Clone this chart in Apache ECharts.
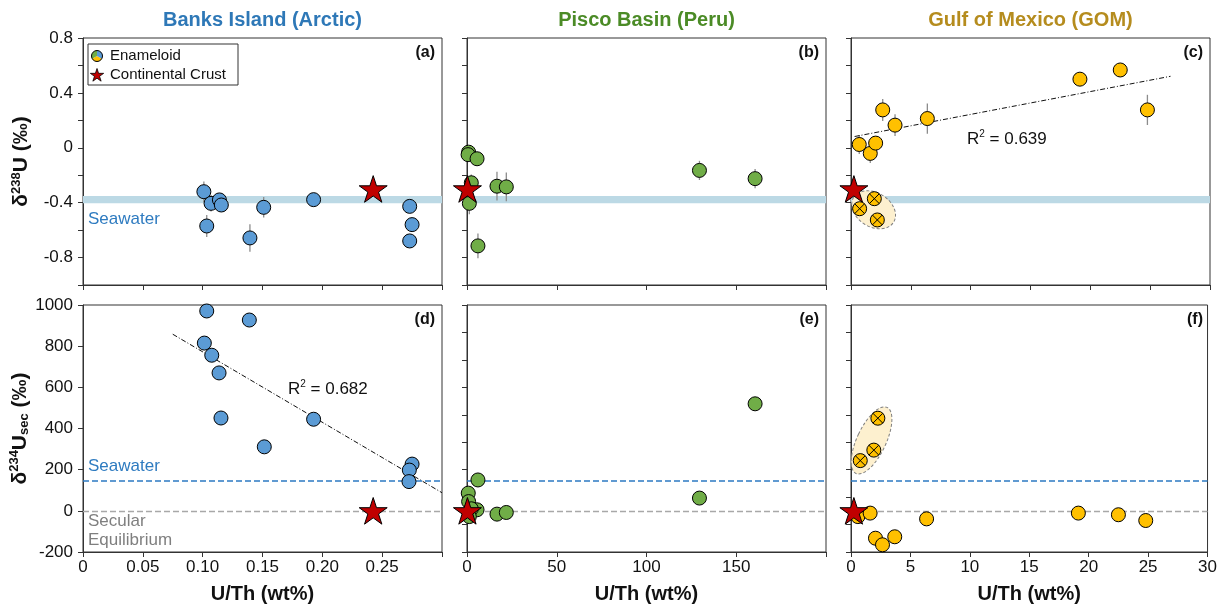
<!DOCTYPE html>
<html>
<head>
<meta charset="utf-8">
<script src="https://cdn.jsdelivr.net/npm/echarts@6/dist/echarts.min.js"></script>
<style>
  html, body { margin: 0; padding: 0; background: #fff; }
  #chart { width: 1220px; height: 606px; }
</style>
</head>
<body>
<div id="chart"></div>
<script>
// ---- data ----
// (a) Banks Island, d238U
const banksUThA = [0.101, 0.1034, 0.107, 0.114, 0.1156, 0.1395, 0.151, 0.1927, 0.273, 0.275, 0.273];
const banksD238 = [-0.32, -0.57, -0.405, -0.38, -0.417, -0.657, -0.434, -0.378, -0.427, -0.56, -0.679];
const banksD238Err = [0.075, 0.08, 0.06, 0.05, 0.05, 0.1, 0.075, 0.03, 0.02, 0.02, 0.02];
// (d) Banks Island, d234U sec
const banksUThD = [0.1034, 0.139, 0.1014, 0.1076, 0.1137, 0.1153, 0.1515, 0.1927, 0.275, 0.2727, 0.2724];
const banksD234 = [971, 927, 815, 756, 670, 451, 311, 445, 227, 198, 142];
const trendDX = [0.075, 0.30];
const trendDY = [858, 88];

// (b) Pisco Basin, d238U
const piscoUThB = [0.9, 0.6, 5.6, 2.4, 1.3, 6.1, 16.7, 21.9, 129.5, 160.5];
const piscoD238 = [-0.032, -0.05, -0.08, -0.255, -0.405, -0.715, -0.28, -0.285, -0.165, -0.225];
const piscoD238Err = [0.03, 0.03, 0.03, 0.06, 0.08, 0.09, 0.105, 0.105, 0.07, 0.07];
// (e) Pisco Basin, d234U sec
const piscoUThE = [6.1, 0.7, 0.9, 5.6, 2.4, 1.3, 16.7, 21.9, 129.5, 160.5];
const piscoD234 = [150, 86, 45, 5, 10, -28, -16, -8, 62, 520];

// (c) Gulf of Mexico, d238U
const gomUThC = [0.69, 1.61, 2.06, 2.65, 3.68, 6.38, 19.13, 22.5, 24.77];
const gomD238 = [0.024, -0.041, 0.034, 0.276, 0.165, 0.213, 0.50, 0.567, 0.276];
const gomD238Err = [0.07, 0.07, 0.05, 0.08, 0.08, 0.11, 0.03, 0.03, 0.11];
const gomAltUThC = [0.72, 1.95, 2.2];
const gomAltD238 = [-0.444, -0.371, -0.526];
const trendCX = [0.3, 26.7];
const trendCY = [0.082, 0.521];
// (f) Gulf of Mexico, d234U sec
const gomUThF = [0.58, 1.61, 2.06, 2.65, 3.68, 6.36, 19.13, 22.5, 24.8];
const gomD234 = [-28, -11, -133, -165, -126, -39, -11, -19, -47];
const gomAltUThF = [0.78, 1.92, 2.26];
const gomAltD234 = [244, 295, 450];

// continental crust and seawater references
const crustUTh = 0.2425;
const crustD238 = -0.30;
const crustD234 = 0;
const seawaterD238Band = [-0.405, -0.352];
const seawaterD234 = 146;
const secularD234 = 0;

// axis ticks
const xTicks = [[0, 0.3, 0.05], [0, 200, 50], [0, 30, 5]];
const y238Ticks = [-1.0, 0.8, 0.2];
const y234Ticks = [-200, 1000, 200];

// ---- styling ----
const FONT = "'Liberation Sans', Arial, sans-serif";
const AX = '#333';
const BLUE = '#5b9bd5', GREEN = '#70ad47', GOLD = '#ffc000', RED = '#c00000';
const lefts = [83, 467, 851];
const tops = [38, 305];
const W = 359, H = 247;

function starPts(cx, cy, R) {
  const pts = [];
  for (let i = 0; i < 10; i++) {
    const r = i % 2 ? R * 0.382 : R;
    const a = -Math.PI / 2 + i * Math.PI / 5;
    pts.push([cx + r * Math.cos(a), cy + r * Math.sin(a)]);
  }
  return pts;
}
const STAR = 'path://' + starPts(100, 100, 100)
  .map((p, i) => (i ? 'L' : 'M') + p[0].toFixed(2) + ',' + p[1].toFixed(2)).join('') + 'Z';
const CROSSED = 'path://M0,10A10,10,0,1,1,20,10A10,10,0,1,1,0,10ZM2.93,2.93L17.07,17.07M17.07,2.93L2.93,17.07';

const zip = (xs, ys) => xs.map((x, i) => [x, ys[i]]);

const grids = [];
const xAxes = [];
const yAxes = [];
for (let r = 0; r < 2; r++) {
  for (let c = 0; c < 3; c++) {
    grids.push({
      left: lefts[c], top: tops[r], width: W, height: H,
      show: true, borderColor: AX, borderWidth: 1, backgroundColor: 'transparent'
    });
    const gi = r * 3 + c;
    xAxes.push({
      type: 'value', gridIndex: gi,
      min: xTicks[c][0], max: xTicks[c][1], interval: xTicks[c][2],
      axisLine: { show: true, onZero: false, lineStyle: { color: AX, width: 1 } },
      axisTick: { show: true, inside: false, length: 5, lineStyle: { color: AX } },
      splitLine: { show: false },
      axisLabel: {
        show: r === 1, margin: 7, fontSize: 17, fontFamily: FONT, color: '#111',
        formatter: function (v) {
          if (c === 0) return v > 0.29 ? '' : (v === 0 ? '0' : v.toFixed(2));
          if (c === 1) return v >= 200 ? '' : String(v);
          return String(v);
        }
      },
      name: r === 1 ? 'U/Th (wt%)' : '',
      nameLocation: 'middle', nameGap: 32,
      nameTextStyle: { fontSize: 20, fontWeight: 'bold', fontFamily: FONT, color: '#111' }
    });
  }
}

const yAxisBase = {
  type: 'value', position: 'left',
  axisLine: { show: true, onZero: false, lineStyle: { color: AX, width: 1 } },
  axisTick: { show: true, inside: false, length: 5, lineStyle: { color: AX } },
  splitLine: { show: false }
};
const nameRich = {
  b: { fontSize: 21, fontWeight: 'bold', fontFamily: FONT, color: '#111' },
  sup: { fontSize: 13, fontWeight: 'bold', fontFamily: FONT, color: '#111', verticalAlign: 'top', lineHeight: 23 },
  sub: { fontSize: 13, fontWeight: 'bold', fontFamily: FONT, color: '#111', verticalAlign: 'bottom', lineHeight: 23 }
};
// 0,1,2 : top row (d238U)
for (let c = 0; c < 3; c++) {
  yAxes.push(Object.assign({}, yAxisBase, {
    gridIndex: c, min: y238Ticks[0], max: y238Ticks[1], interval: y238Ticks[2],
    axisLabel: {
      show: c === 0, margin: 10, fontSize: 17, fontFamily: FONT, color: '#111',
      formatter: function (v) {
        const k = Math.round(v * 10);
        if (k % 4 !== 0 || k < -8) return '';
        return k === 0 ? '0' : (k / 10).toFixed(1);
      }
    },
    name: c === 0 ? '{b|δ}{sup|238}{b|U (‰)}' : '',
    nameLocation: 'middle', nameRotate: 90, nameGap: 50,
    nameTextStyle: { rich: nameRich }
  }));
}
// 3 : (d)
yAxes.push(Object.assign({}, yAxisBase, {
  gridIndex: 3, min: y234Ticks[0], max: y234Ticks[1], interval: y234Ticks[2],
  axisLabel: { margin: 10, fontSize: 17, fontFamily: FONT, color: '#111',
    formatter: function (v) { return String(v); } },
  name: '{b|δ}{sup|234}{b|U}{sub|sec}{b| (‰)}',
  nameLocation: 'middle', nameRotate: 90, nameGap: 50,
  nameTextStyle: { rich: nameRich }
}));
// 4,5 : data axes for (e),(f)
for (let c = 1; c < 3; c++) {
  yAxes.push({ type: 'value', gridIndex: 3 + c, position: 'right', min: y234Ticks[0], max: y234Ticks[1], show: false });
}
// 6,7 : tick-only axes for (e),(f) (nine equal divisions as in the figure)
for (let c = 1; c < 3; c++) {
  yAxes.push(Object.assign({}, yAxisBase, {
    gridIndex: 3 + c, min: 0, max: 9, interval: 1, axisLabel: { show: false }
  }));
}

const series = [];
function refSeries(xi, yi, extra) {
  series.push(Object.assign({ type: 'line', xAxisIndex: xi, yAxisIndex: yi, data: [], silent: true, z: 1 }, extra));
}
function errSeries(xi, yi, xs, ys, es) {
  series.push({
    type: 'custom', xAxisIndex: xi, yAxisIndex: yi, z: 2, silent: true,
    data: xs.map((x, i) => [x, ys[i], es[i]]),
    renderItem: function (params, api) {
      const x = api.value(0), y = api.value(1), e = api.value(2);
      const p1 = api.coord([x, y + e]), p2 = api.coord([x, y - e]);
      return { type: 'line', shape: { x1: p1[0], y1: p1[1], x2: p2[0], y2: p2[1] },
        style: { stroke: '#8c8c8c', lineWidth: 1.3 } };
    }
  });
}
function pointSeries(xi, yi, xs, ys, color, symbol, size, z) {
  series.push({
    type: 'scatter', xAxisIndex: xi, yAxisIndex: yi, z: z || 5,
    symbol: symbol || 'circle', symbolSize: size || 14, symbolKeepAspect: true,
    itemStyle: { color: color, borderColor: '#000', borderWidth: 1, opacity: 1 },
    data: zip(xs, ys)
  });
}
function trendSeries(xi, yi, xs, ys) {
  series.push({
    type: 'line', xAxisIndex: xi, yAxisIndex: yi, z: 3, silent: true, symbol: 'none',
    lineStyle: { color: '#111', width: 1, type: [5, 2, 1, 2] },
    data: zip(xs, ys)
  });
}
function ellipseSeries(xi, yi, center, rx, ry, rot) {
  series.push({
    type: 'custom', xAxisIndex: xi, yAxisIndex: yi, z: 3, silent: true,
    data: [center],
    renderItem: function (params, api) {
      const p = api.coord([api.value(0), api.value(1)]);
      return { type: 'ellipse', x: p[0], y: p[1], rotation: rot,
        shape: { cx: 0, cy: 0, rx: rx, ry: ry },
        style: { fill: '#fdf0cf', stroke: '#808080', lineWidth: 1, lineDash: [3, 2] } };
    }
  });
}

// seawater band in top row
for (let c = 0; c < 3; c++) {
  refSeries(c, c, {
    markArea: { silent: true, itemStyle: { color: '#bcd9e5' },
      data: [[{ yAxis: seawaterD238Band[0] }, { yAxis: seawaterD238Band[1] }]] }
  });
}
// seawater / secular equilibrium lines in bottom row
const bottomY = [3, 4, 5];
for (let c = 0; c < 3; c++) {
  refSeries(3 + c, bottomY[c], {
    markLine: { silent: true, symbol: ['none', 'none'], label: { show: false },
      data: [
        { yAxis: seawaterD234, lineStyle: { color: '#2c79c2', type: [6, 3], width: 1.5 } },
        { yAxis: secularD234, lineStyle: { color: '#a8a8a8', type: [6, 3], width: 1.4 } }
      ] }
  });
}

// (a)
errSeries(0, 0, banksUThA, banksD238, banksD238Err);
pointSeries(0, 0, banksUThA, banksD238, BLUE);
pointSeries(0, 0, [crustUTh], [crustD238], RED, STAR, 28, 8);
// (b)
errSeries(1, 1, piscoUThB, piscoD238, piscoD238Err);
pointSeries(1, 1, piscoUThB, piscoD238, GREEN);
pointSeries(1, 1, [crustUTh], [crustD238], RED, STAR, 28, 8);
// (c)
errSeries(2, 2, gomUThC, gomD238, gomD238Err);
trendSeries(2, 2, trendCX, trendCY);
ellipseSeries(2, 2, [1.89, -0.452], 23.5, 17, -0.55);
pointSeries(2, 2, gomUThC, gomD238, GOLD);
pointSeries(2, 2, gomAltUThC, gomAltD238, GOLD, CROSSED, 14);
pointSeries(2, 2, [crustUTh], [crustD238], RED, STAR, 28, 8);
// (d)
trendSeries(3, 3, trendDX, trendDY);
pointSeries(3, 3, banksUThD, banksD234, BLUE);
pointSeries(3, 3, [crustUTh], [crustD234], RED, STAR, 28, 8);
// (e)
pointSeries(4, 4, piscoUThE, piscoD234, GREEN);
pointSeries(4, 4, [crustUTh], [crustD234], RED, STAR, 28, 8);
// (f)
ellipseSeries(5, 5, [1.73, 342], 14.5, 36.5, -0.44);
pointSeries(5, 5, gomUThF, gomD234, GOLD);
pointSeries(5, 5, gomAltUThF, gomAltD234, GOLD, CROSSED, 14);
pointSeries(5, 5, [crustUTh], [crustD234], RED, STAR, 28, 8);

// ---- text annotations ----
function txt(x, y, text, opts) {
  return {
    type: 'text', x: x, y: y, z: 20, silent: true,
    style: Object.assign({
      text: text, fill: '#111', font: '17px ' + FONT,
      align: 'left', verticalAlign: 'middle', textAlign: 'left', textVerticalAlign: 'middle'
    }, opts || {})
  };
}
const titles = [
  ['Banks Island (Arctic)', '#2e78b7'],
  ['Pisco Basin (Peru)', '#4b8b26'],
  ['Gulf of Mexico (GOM)', '#b58c1e']
];
const graphic = [];
titles.forEach((t, c) => {
  graphic.push(txt(lefts[c] + W / 2, 20, t[0], {
    fill: t[1], font: 'bold 20px ' + FONT, align: 'center', textAlign: 'center'
  }));
});
['(a)', '(b)', '(c)', '(d)', '(e)', '(f)'].forEach((l, i) => {
  const c = i % 3, r = Math.floor(i / 3);
  graphic.push(txt(lefts[c] + W - 7, tops[r] + 15, l, {
    font: 'bold 16px ' + FONT, align: 'right', textAlign: 'right'
  }));
});
graphic.push(txt(88, 219, 'Seawater', { fill: '#2e7bc0' }));
graphic.push(txt(88, 466, 'Seawater', { fill: '#2e7bc0' }));
graphic.push(txt(88, 521, 'Secular', { fill: '#7f7f7f' }));
graphic.push(txt(88, 540, 'Equilibrium', { fill: '#7f7f7f' }));
const r2Rich = {
  a: { fontSize: 17, fontFamily: FONT, color: '#111', lineHeight: 20 },
  s: { fontSize: 10, fontFamily: FONT, color: '#111', verticalAlign: 'top', lineHeight: 20 }
};
graphic.push(txt(288, 389, '{a|R}{s|2}{a| = 0.682}', { rich: r2Rich }));
graphic.push(txt(967, 139, '{a|R}{s|2}{a| = 0.639}', { rich: r2Rich }));

// legend box
const lx = 88, ly = 44;
graphic.push({
  type: 'group', z: 30, silent: true,
  children: [
    { type: 'rect', shape: { x: lx, y: ly, width: 150, height: 41 },
      style: { fill: '#fff', stroke: AX, lineWidth: 1 } },
    { type: 'sector', shape: { cx: lx + 9, cy: ly + 12, r: 5.5, startAngle: Math.PI / 6, endAngle: 5 * Math.PI / 6 },
      style: { fill: GOLD } },
    { type: 'sector', shape: { cx: lx + 9, cy: ly + 12, r: 5.5, startAngle: 5 * Math.PI / 6, endAngle: 3 * Math.PI / 2 },
      style: { fill: GREEN } },
    { type: 'sector', shape: { cx: lx + 9, cy: ly + 12, r: 5.5, startAngle: 3 * Math.PI / 2, endAngle: 13 * Math.PI / 6 },
      style: { fill: BLUE } },
    { type: 'circle', shape: { cx: lx + 9, cy: ly + 12, r: 5.5 },
      style: { fill: 'none', stroke: '#000', lineWidth: 1 } },
    { type: 'polygon', shape: { points: starPts(lx + 9, ly + 31.5, 7) },
      style: { fill: RED, stroke: '#000', lineWidth: 0.8 } },
    { type: 'text', x: lx + 22, y: ly + 12,
      style: { text: 'Enameloid', fill: '#111', font: '15px ' + FONT, verticalAlign: 'middle', textVerticalAlign: 'middle' } },
    { type: 'text', x: lx + 22, y: ly + 31,
      style: { text: 'Continental Crust', fill: '#111', font: '15px ' + FONT, verticalAlign: 'middle', textVerticalAlign: 'middle' } }
  ]
});

const chart = echarts.init(document.getElementById('chart'));
chart.setOption({
  animation: false,
  backgroundColor: '#fff',
  grid: grids,
  xAxis: xAxes,
  yAxis: yAxes,
  series: series,
  graphic: graphic
});
</script>
</body>
</html>
